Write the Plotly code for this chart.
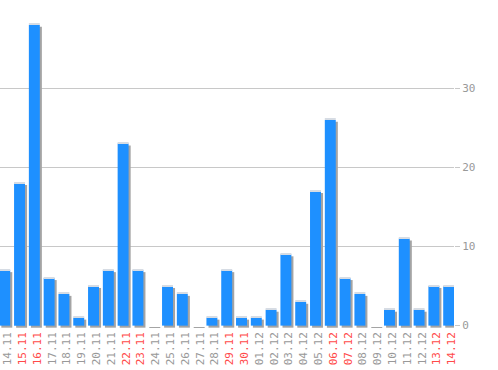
import plotly.graph_objects as go

dates = ["14.11", "15.11", "16.11", "17.11", "18.11", "19.11", "20.11", "21.11",
         "22.11", "23.11", "24.11", "25.11", "26.11", "27.11", "28.11", "29.11",
         "30.11", "01.12", "02.12", "03.12", "04.12", "05.12", "06.12", "07.12",
         "08.12", "09.12", "10.12", "11.12", "12.12", "13.12", "14.12"]
values = [7, 18, 38, 6, 4, 1, 5, 7, 23, 7, 0, 5, 4, 0, 1, 7,
          1, 1, 2, 9, 3, 17, 26, 6, 4, 0, 2, 11, 2, 5, 5]
weekend = ["15.11", "16.11", "22.11", "23.11", "29.11", "30.11",
           "06.12", "07.12", "13.12", "14.12"]
ytick_vals = [0, 10, 20, 30]

GRAY = "#999999"
RED = "#ff4a4a"
BLUE = "#1e90ff"
W = 0.74

ticktext = [f"<span style='color:{RED}'>{d}</span>" if d in weekend else d for d in dates]

fig = go.Figure()
# shadow
fig.add_trace(go.Bar(
    x=dates, y=[v + 0.02 for v in values], base=-0.26, width=W, offset=-W / 2 + 0.14,
    marker=dict(color="#a4a4a4", line=dict(width=0)), hoverinfo="skip", showlegend=False))
# main bars
fig.add_trace(go.Bar(
    x=dates, y=values, width=W, offset=-W / 2,
    marker=dict(color=BLUE, line=dict(width=0)), hoverinfo="skip", showlegend=False))
# top highlight
fig.add_trace(go.Bar(
    x=dates, y=[0.13 if v else 0 for v in values], base=values, width=W, offset=-W / 2,
    marker=dict(color="#d6dce4", line=dict(width=0)), hoverinfo="skip", showlegend=False))

fig.update_layout(
    width=498, height=370,
    margin=dict(l=0, r=44, t=0, b=42),
    barmode="overlay",
    plot_bgcolor="white", paper_bgcolor="white",
    font=dict(family="DejaVu Sans Mono", size=11, color=GRAY),
    showlegend=False,
)
fig.update_xaxes(
    type="category", range=[-0.32, 30.36],
    tickvals=dates, ticktext=ticktext, tickangle=-90,
    ticklabelshift=3, ticklabelstandoff=1,
    showgrid=False, zeroline=False, showline=False, ticks="",
    tickfont=dict(family="DejaVu Sans Mono", size=11, color=GRAY),
)
fig.update_yaxes(
    side="right", range=[-0.3, 41.15],
    tickvals=ytick_vals, ticktext=[str(v) for v in ytick_vals],
    showgrid=True, gridcolor="#c8c8c8", gridwidth=1,
    zeroline=True, zerolinecolor="white", zerolinewidth=1,
    ticks="outside", ticklen=5, tickcolor="#c8c8c8",
    showline=False,
    tickfont=dict(family="DejaVu Sans Mono", size=11, color=GRAY),
)

fig.write_html("out.html")
